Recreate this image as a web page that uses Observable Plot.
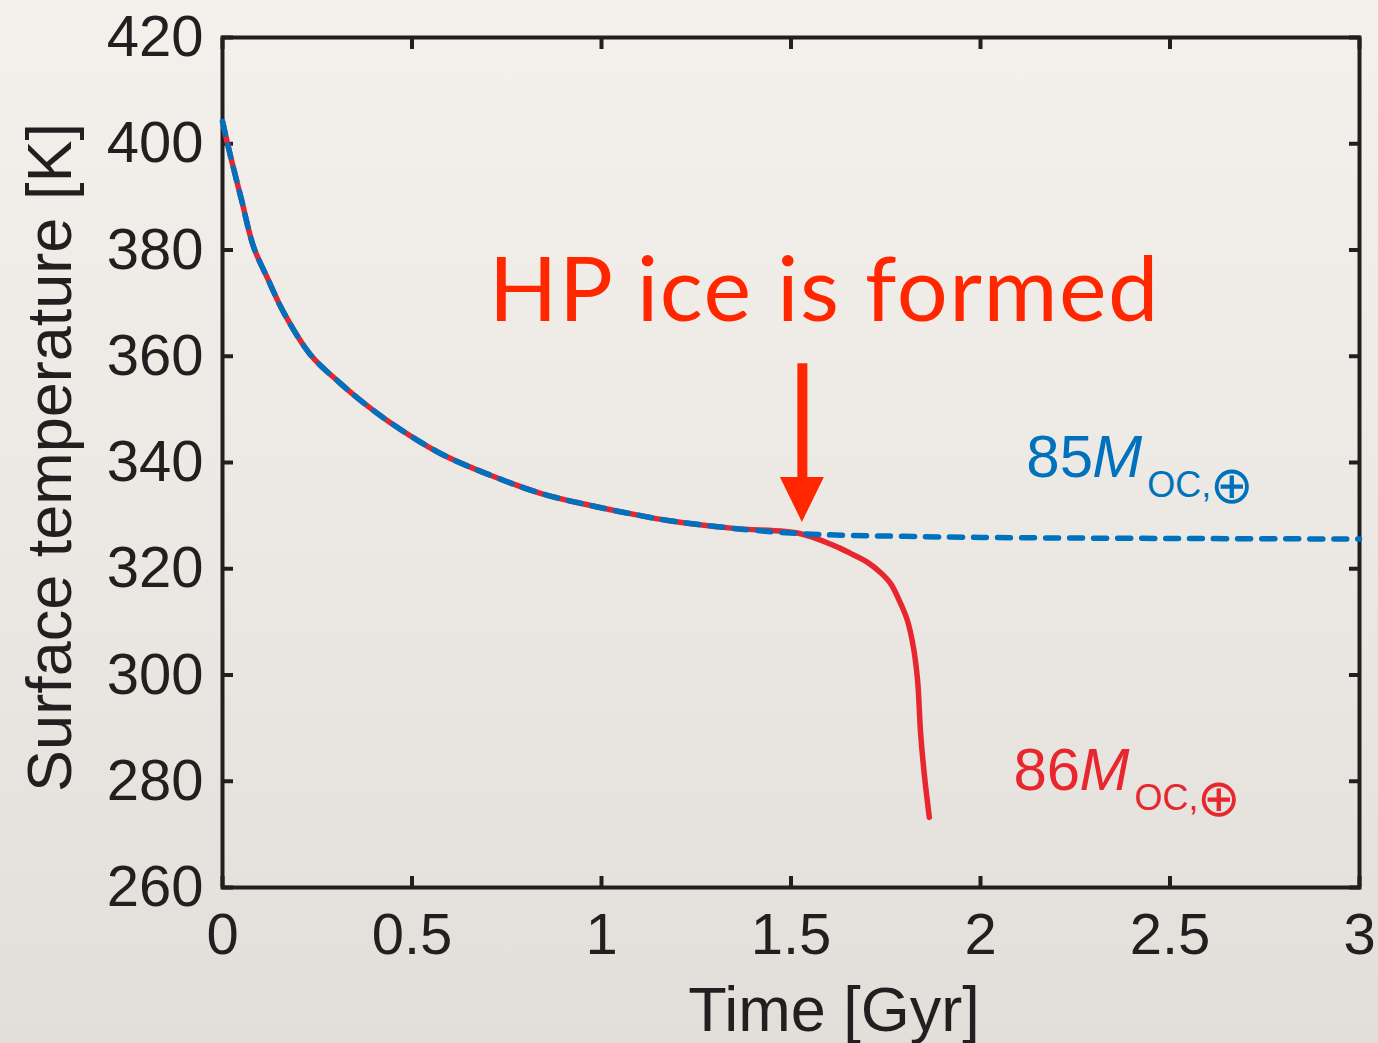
<!DOCTYPE html>
<html><head><meta charset="utf-8">
<script src="https://cdn.jsdelivr.net/npm/d3@7"></script>
<script src="https://cdn.jsdelivr.net/npm/@observablehq/plot@0.6"></script>
<style>
html,body{margin:0;padding:0;}
body{width:1378px;height:1043px;overflow:hidden;background:linear-gradient(180deg,#f4f1ec 0%,#ebe8e3 55%,#e2dfda 100%);}
#chart svg{display:block;}
</style></head><body><div id="chart"></div>
<script>
// Shared early evolution (both ocean masses overlap), time in Gyr, surface temperature in K
const timeShared = [0, 0.02, 0.05, 0.082, 0.12, 0.161, 0.232, 0.311, 0.364, 0.443, 0.575, 0.707, 0.839, 0.971, 1.103, 1.174, 1.348, 1.525];
const tempShared = [404.2, 398, 389.5, 380.6, 374.5, 368.3, 360.3, 354.9, 351.7, 347.5, 341.7, 337.6, 334.2, 331.9, 330.0, 329.1, 327.6, 326.6];
// 85 M_oc (no HP ice) continues flat
const time85 = [1.65, 1.8, 2.0, 2.5, 3.0];
const temp85 = [326.3, 326.1, 325.9, 325.7, 325.6];
// 86 M_oc (HP ice forms) drops
const time86 = [1.612, 1.657, 1.702, 1.736, 1.763, 1.789, 1.807, 1.823, 1.834, 1.842, 1.852, 1.865];
const temp86 = [324.4, 322.9, 321.2, 319.3, 317.2, 313.5, 310.3, 305.2, 299.0, 289.0, 281.1, 273.2];

const xTicks = [0, 0.5, 1, 1.5, 2, 2.5, 3];
const xTickLabels = ["0", "0.5", "1", "1.5", "2", "2.5", "3"];
const yTicks = [260, 280, 300, 320, 340, 360, 380, 400, 420];
const yTickLabels = ["260", "280", "300", "320", "340", "360", "380", "400", "420"];

const xTitle = "Time [Gyr]";
const yTitle = "Surface temperature [K]";
const noteText = "HP ice is formed";
const labelNumbers = ["85", "86"];
const labelTime = [2.121, 2.087];
const labelTemp = [337.2, 278.3];
const labelColors = ["#0072bd", "#e8262e"];
const labelMass = "M";
const labelSub = "OC,";
const labelEarth = "\u2295";

// annotation arrow (data coordinates)
const arrowTime = 1.530;
const arrowTop = 358.6;
const arrowHeadBase = 337.2;
const arrowTip = 328.7;
const arrowHalf = 0.058;
const noteTime = 1.588;
const noteTemp = 366.7;

const ink = "#231f20";
const red = "#e8262e";
const blue = "#0072bd";
const noteRed = "#ff2600";

const zip = (ts, ks) => ts.map((t, i) => ({t, k: ks[i]}));
const red86 = zip(timeShared, tempShared).concat(zip(time86, temp86));
const blue85 = zip(timeShared, tempShared).concat(zip(time85, temp85));
const labels = labelNumbers.map((n, i) => ({n, t: labelTime[i], k: labelTemp[i], c: labelColors[i]}));
const head = [
  {t: arrowTime - arrowHalf, y1: arrowHeadBase, y2: arrowHeadBase},
  {t: arrowTime, y1: arrowHeadBase, y2: arrowTip},
  {t: arrowTime + arrowHalf, y1: arrowHeadBase, y2: arrowHeadBase}
];

const fmtX = d => xTickLabels[xTicks.indexOf(d)];
const fmtY = d => yTickLabels[yTicks.indexOf(d)];

const chart = Plot.plot({
  width: 1378,
  height: 1043,
  marginLeft: 222,
  marginRight: 19,
  marginTop: 37,
  marginBottom: 156,
  style: {background: "transparent", fontFamily: "'Liberation Sans', Arial, sans-serif", overflow: "visible", color: ink},
  x: {domain: [0, 3]},
  y: {domain: [260, 420]},
  marks: [
    Plot.frame({stroke: ink, strokeWidth: 4}),
    Plot.axisX(xTicks, {anchor: "bottom", tickSize: -11, tickPadding: 36, tickFormat: fmtX, fontSize: 58, stroke: ink, fill: ink, strokeWidth: 4, label: null}),
    Plot.axisX(xTicks, {anchor: "top", tickSize: -11, tickFormat: () => "", stroke: ink, strokeWidth: 4, label: null}),
    Plot.axisY(yTicks, {anchor: "left", tickSize: -11, tickPadding: 30, tickFormat: fmtY, fontSize: 58, stroke: ink, fill: ink, strokeWidth: 4, label: null}),
    Plot.axisY(yTicks, {anchor: "right", tickSize: -11, tickFormat: () => "", stroke: ink, strokeWidth: 4, label: null}),
    Plot.line(red86, {x: "t", y: "k", stroke: red, strokeWidth: 5.5, curve: "catmull-rom"}),
    Plot.line(blue85, {x: "t", y: "k", stroke: blue, strokeWidth: 5.5, strokeDasharray: "13,11", curve: "catmull-rom"}),
    Plot.ruleX([arrowTime], {y1: arrowTop, y2: arrowHeadBase - 0.5, stroke: noteRed, strokeWidth: 10}),
    Plot.areaY(head, {x: "t", y1: "y1", y2: "y2", fill: noteRed}),
    Plot.text([noteText], {x: noteTime, y: noteTemp, textAnchor: "middle", lineAnchor: "bottom", fontFamily: "Lato", fontSize: 90, fill: noteRed}),
    Plot.text(labels, {x: "t", y: "k", text: "n", fill: "c", textAnchor: "start", lineAnchor: "bottom", fontSize: 60}),
    Plot.text(labels, {x: "t", y: "k", text: () => labelMass, fill: "c", textAnchor: "start", lineAnchor: "bottom", fontSize: 60, fontStyle: "italic", dx: 66}),
    Plot.text(labels, {x: "t", y: "k", text: () => labelSub, fill: "c", textAnchor: "start", lineAnchor: "bottom", fontSize: 36, dx: 121, dy: 20}),
    Plot.text(labels, {x: "t", y: "k", text: () => labelEarth, fill: "c", textAnchor: "start", lineAnchor: "bottom", fontSize: 52, fontWeight: 200, fontFamily: "DejaVu Sans", dx: 184, dy: 26}),
    Plot.text([xTitle], {frameAnchor: "bottom", textAnchor: "middle", lineAnchor: "bottom", dx: 43, dy: 143, fontSize: 63, fill: ink}),
    Plot.text([yTitle], {frameAnchor: "left", textAnchor: "middle", lineAnchor: "bottom", rotate: -90, dx: -152, dy: -5, fontSize: 63, fill: ink})
  ]
});
d3.select(chart).selectAll("text").filter(function() { return this.textContent === noteText; }).attr("letter-spacing", "1.5px");
document.getElementById("chart").appendChild(chart);
</script>
</body></html>
